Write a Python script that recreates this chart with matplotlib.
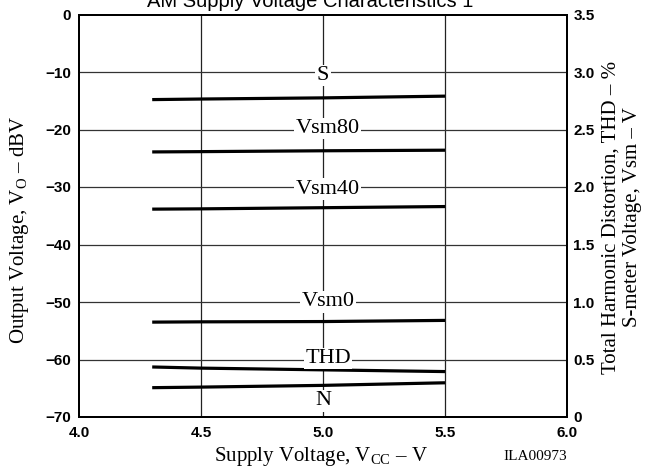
import matplotlib
matplotlib.use("Agg")
import matplotlib.pyplot as plt

# ---- data ----
vcc = [4.3, 4.5, 5.0, 5.5]
s_curve = [-14.8, -14.7, -14.5, -14.2]
vsm80 = [-23.9, -23.85, -23.7, -23.6]
vsm40 = [-33.85, -33.8, -33.6, -33.4]
vsm0 = [-53.5, -53.45, -53.4, -53.2]
thd = [-61.3, -61.5, -61.8, -62.1]
noise = [-64.9, -64.8, -64.5, -64.05]

series = [s_curve, vsm80, vsm40, vsm0, thd, noise]
labels = ["S", "Vsm80", "Vsm40", "Vsm0", "THD", "N"]
label_x = [5.0, 5.02, 5.02, 5.02, 5.02, 5.0]
label_y = [-10.6, -19.8, -30.4, -50.0, -59.8, -67.2]

x_ticks = [4.0, 4.5, 5.0, 5.5, 6.0]
x_ticklabels = ["4.0", "4.5", "5.0", "5.5", "6.0"]
y_ticks = [0, -10, -20, -30, -40, -50, -60, -70]
y_ticklabels = ["0", "\u221210", "\u221220", "\u221230", "\u221240", "\u221250", "\u221260", "\u221270"]
r_ticks = [0, 0.5, 1.0, 1.5, 2.0, 2.5, 3.0, 3.5]
r_ticklabels = ["0", "0.5", "1.0", "1.5", "2.0", "2.5", "3.0", "3.5"]

plt.rcParams["mathtext.fontset"] = "custom"
plt.rcParams["mathtext.rm"] = "Liberation Serif"

W, H = 645, 468
fig = plt.figure(figsize=(6.45, 4.68), dpi=100)
L, R, T, B = 79, 567, 14.5, 417
ax = fig.add_axes([L/W, 1-B/H, (R-L)/W, (B-T)/H])
ax.set_xlim(4.0, 6.0)
ax.set_ylim(-70, 0)

for xv in [4.5, 5.0, 5.5]:
    ax.axvline(xv, color="#222222", lw=0.9, zorder=1)
for yv in [-10, -20, -30, -40, -50, -60]:
    ax.axhline(yv, color="#333333", lw=0.9, zorder=1)

for ys in series:
    ax.plot(vcc, ys, color="black", lw=2.3, zorder=3, solid_capstyle="butt")

for lab, lx, ly in zip(labels, label_x, label_y):
    ax.text(lx, ly, lab, ha="center", va="center", fontsize=16,
            family="Liberation Serif", zorder=4,
            bbox=dict(facecolor="white", edgecolor="none", pad=1.0))

tickfont = dict(family="Liberation Sans", size=11, weight="bold")
ax.set_xticks(x_ticks)
ax.set_xticklabels(x_ticklabels, **tickfont)
ax.set_yticks(y_ticks)
ax.set_yticklabels(y_ticklabels, **tickfont)
ax.tick_params(axis="x", length=0, pad=6.5)
ax.tick_params(axis="y", length=0, pad=5.5)
for sp in ax.spines.values():
    sp.set_linewidth(1.4)
    sp.set_zorder(5)

ax2 = ax.twinx()
ax2.set_ylim(0, 3.5)
ax2.set_yticks(r_ticks)
ax2.set_yticklabels(r_ticklabels, **tickfont)
ax2.tick_params(length=0, pad=4.5)
for sp in ax2.spines.values():
    sp.set_linewidth(1.4)

labfont = dict(family="Liberation Serif", size=15)
fig.text(321/W, 1-457/H, "Supply Voltage, V$_{\\rm CC}$ \u2013 V", ha="center",
         va="center", **labfont)
fig.text(20/W, 1-230/H, "Output Voltage, V$_{\\rm O}$ \u2013 dBV", rotation=90,
         ha="center", va="center", **labfont)

fig.text(611/W, 1-217/H, "Total Harmonic Distortion, THD \u2013 %", rotation=90,
         ha="center", va="center", **labfont)
fig.text(633/W, 1-217/H, "S-meter Voltage, Vsm \u2013 V", rotation=90,
         ha="center", va="center", **labfont)

fig.text(535/W, 1-457/H, "ILA00973", ha="center", va="center",
         family="Liberation Serif", size=11)

fig.text(310/W, 1-7/H, "AM Supply Voltage Characteristics 1", ha="center",
         va="baseline", family="Liberation Sans", size=14.5)

fig.savefig("out.png", dpi=100)
